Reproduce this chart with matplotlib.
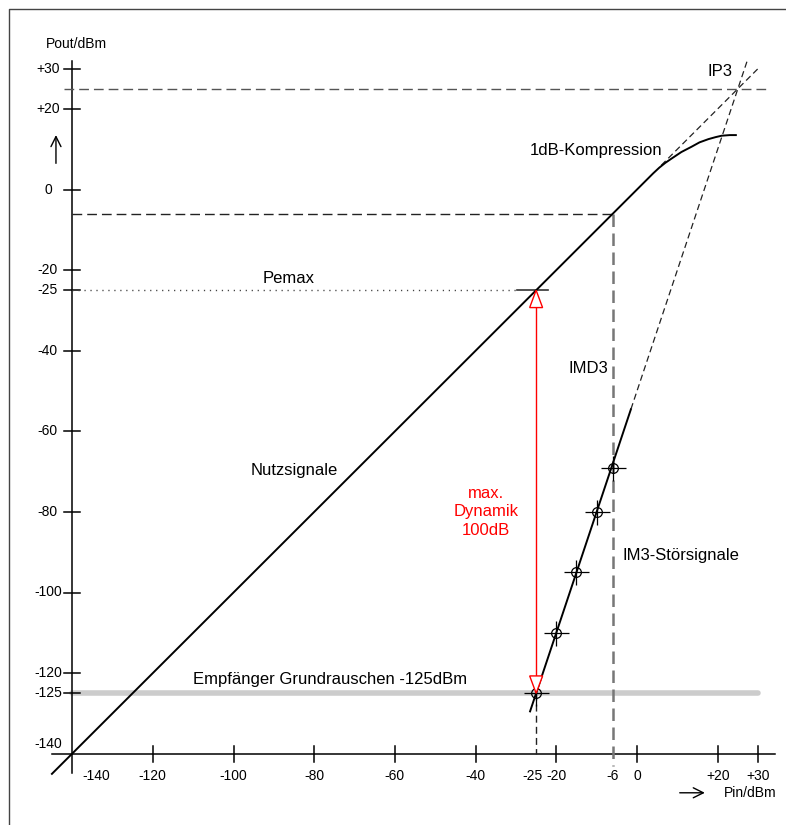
import matplotlib.pyplot as plt
from matplotlib.patches import Polygon

plt.rcParams['font.family'] = ['Liberation Sans', 'DejaVu Sans']

# Achsen-Ticks (dBm)
x_ticks = [-120, -100, -80, -60, -40, -20, 0, 20, 30]
x_labels = ['-120', '-100', '-80', '-60', '-40', '-20', '0', '+20', '+30']
y_ticks = [30, 20, 0, -20, -25, -40, -60, -80, -100, -120, -125]
y_labels = ['+30', '+20', '0', '-20', '-25', '-40', '-60', '-80', '-100', '-120', '-125']

# Nutzsignal mit Kompression (Pin, Pout)
pin_nutz = [-145, 4, 5.5, 7, 8.6, 11, 13.5, 15.5, 17.7, 19.5, 21, 23, 24.5]
pout_nutz = [-145, 4, 5.4, 6.6, 7.7, 9.3, 10.6, 11.7, 12.5, 13.0, 13.35, 13.5, 13.5]

# IM3-Stoersignale, Messpunkte
pin_im3 = [-25, -20, -15, -10, -6]
pout_im3 = [-125, -110, -95, -80, -69]
im3_solid_x = [-26.5, -1.5]
im3_solid_y = [-129.5, -54.5]
im3_dash_x = [-1.5, 27.5]
im3_dash_y = [-54.5, 32.5]

ip3 = 25
p1db_in = -6
pemax = -25
noise = -125

fig = plt.figure(figsize=(7.86, 8.25), dpi=100)
ax = fig.add_axes([0, 0, 1, 1])
ax.set_xlim(-637 / 4.035, 149 / 4.035)
ax.set_ylim(-635.5 / 4.03, 189.5 / 4.03)
ax.axis('off')

# Rahmen
fig.add_artist(plt.Line2D([9 / 786, 9 / 786, 1.01], [-0.01, 1 - 8.5 / 825, 1 - 8.5 / 825],
                          transform=fig.transFigure, color='#444444', lw=1.0))

# Rauschgrenze
ax.plot([-140, 30], [noise, noise], color='#cccccc', lw=4, solid_capstyle='round', zorder=1)

# Achsen
ax.plot([-145, 34.2], [-140, -140], color='black', lw=1.1)
ax.plot([-140, -140], [-144.7, 31.9], color='black', lw=1.1)
for xt in x_ticks:
    ax.plot([xt, xt], [-142, -138], color='black', lw=1.1)
for yt in y_ticks:
    ax.plot([-142, -138], [yt, yt], color='black', lw=1.1)
for xt, lab in zip(x_ticks, x_labels):
    ax.text(xt, -145.6, lab, ha='center', va='center', fontsize=10)
ax.text(-134.1, -145.6, '-140', ha='center', va='center', fontsize=10)
ax.text(-25.8, -145.6, '-25', ha='center', va='center', fontsize=10)
ax.text(-6, -145.6, '-6', ha='center', va='center', fontsize=10)
for yt, lab in zip(y_ticks, y_labels):
    ax.text(-146, yt, lab, ha='center', va='center', fontsize=10)
ax.text(-146, -137.6, '-140', ha='center', va='center', fontsize=10)

ax.text(-146.5, 36.1, 'Pout/dBm', ha='left', va='center', fontsize=10)
ax.annotate('', xy=(-144, 14.2), xytext=(-144, 5.8),
            arrowprops=dict(arrowstyle='->', lw=1, color='black', mutation_scale=18))
ax.text(21.6, -149.7, 'Pin/dBm', ha='left', va='center', fontsize=10)
ax.annotate('', xy=(17.5, -149.7), xytext=(9.9, -149.7),
            arrowprops=dict(arrowstyle='->', lw=1, color='black', mutation_scale=18))

# Hilfslinien
ax.plot([-142, 32], [ip3, ip3], color='#555555', lw=1, dashes=(7, 3.6))
ax.plot([-140, p1db_in], [p1db_in, p1db_in], color='#222222', lw=1, dashes=(7, 3.6))
ax.plot([p1db_in, p1db_in], [p1db_in, -143], color='#777777', lw=1.8, dashes=(5, 2.6))
ax.plot([pemax, pemax], [noise, -140], color='#222222', lw=1, dashes=(5, 3))
ax.plot([-140, -29.7], [pemax, pemax], color='#444444', lw=1, dashes=(0.9, 3.4))
ax.plot([-29.7, -22], [pemax, pemax], color='#333333', lw=1.2)
ax.plot([6, 30], [6, 30], color='#222222', lw=0.9, dashes=(5, 3))

# Kennlinien
ax.plot(pin_nutz, pout_nutz, color='black', lw=1.4)
ax.plot(im3_solid_x, im3_solid_y, color='black', lw=1.4)
ax.plot(im3_dash_x, im3_dash_y, color='#222222', lw=0.9, dashes=(5, 3))
ax.plot(pin_im3, pout_im3, linestyle='none', marker='+', markersize=18, mew=0.9, color='black')
ax.plot(pin_im3, pout_im3, linestyle='none', marker='o', markersize=7, mew=0.9,
        markerfacecolor='none', markeredgecolor='black')

# Dynamikpfeil
ax.plot([pemax, pemax], [noise + 4.3, pemax - 4.3], color='red', lw=1)
ax.add_patch(Polygon([[pemax, pemax], [pemax - 1.6, pemax - 4.3], [pemax + 1.6, pemax - 4.3]],
                     closed=True, facecolor='white', edgecolor='red', lw=1, zorder=5))
ax.add_patch(Polygon([[pemax, noise], [pemax - 1.6, noise + 4.3], [pemax + 1.6, noise + 4.3]],
                     closed=True, facecolor='white', edgecolor='red', lw=1, zorder=5))
ax.text(-37.4, -80.0, 'max.\nDynamik\n100dB', ha='center', va='center', fontsize=12,
        color='red', linespacing=1.3)

# Beschriftungen
ax.text(20.6, 29.2, 'IP3', ha='center', va='center', fontsize=12)
ax.text(-26.5, 9.8, '1dB-Kompression', ha='left', va='center', fontsize=12)
ax.text(-92.9, -22.2, 'Pemax', ha='left', va='center', fontsize=12)
ax.text(-17.1, -44.3, 'IMD3', ha='left', va='center', fontsize=12)
ax.text(-95.7, -69.8, 'Nutzsignale', ha='left', va='center', fontsize=12)
ax.text(-3.5, -90.7, 'IM3-Störsignale', ha='left', va='center', fontsize=12)
ax.text(-110, -121.7, 'Empfänger Grundrauschen -125dBm', ha='left', va='center', fontsize=12)

fig.savefig('out.png', dpi=100)
